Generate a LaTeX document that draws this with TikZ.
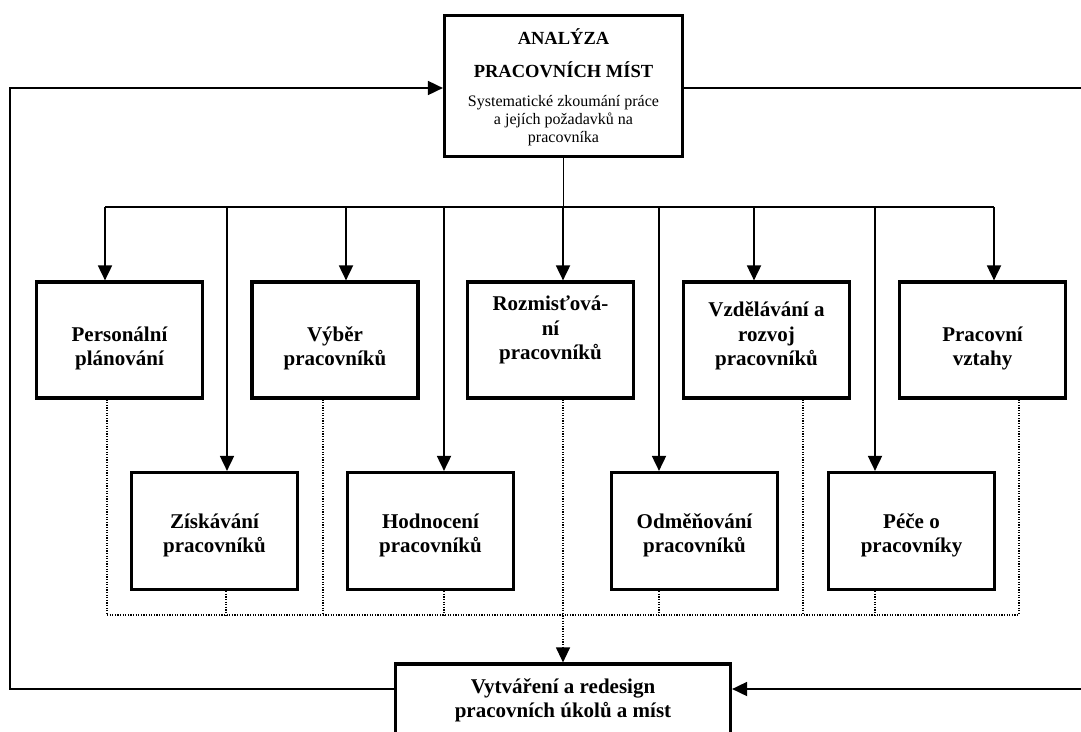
\documentclass[tikz,border=0pt]{standalone}
\usepackage{fontspec}
\setmainfont{Liberation Serif}
\usetikzlibrary{calc, arrows.meta}

\begin{document}
\begin{tikzpicture}[x=1pt,y=-1pt,
  hrbox/.style={draw, line width=3.2pt, minimum width=166pt, minimum height=116pt, inner sep=0pt},
  boxtext/.style={align=center, inner sep=0pt, anchor=south, font=\fontsize{21}{24.5}\selectfont\bfseries},
  toptext/.style={anchor=base, inner sep=0pt, font=\fontsize{18.5}{22}\selectfont\bfseries},
  subtext/.style={anchor=base, inner sep=0pt, font=\fontsize{16}{18}\selectfont},
  wire/.style={line width=1.8pt},
  link/.style={line width=1.8pt, -{Triangle[length=15pt,width=14pt]}},
  dotline/.style={line width=1.2pt, dash pattern=on 1.2pt off 1.4pt}]
\useasboundingbox (0,0) rectangle (1081,731);
%Analysis box at the top
\node[hrbox, minimum width=238pt, minimum height=141pt] (analyza) at (563.5,86) {};
\node[toptext] (analyzaT1) at (563.5,44) {ANALÝZA};
\node[toptext] (analyzaT2) at (563.5,77) {PRACOVNÍCH MÍST};
\node[subtext] (analyzaT3) at (563.5,106) {Systematické zkoumání práce};
\node[subtext] (analyzaT4) at (563.5,124) {a jejích požadavků na};
\node[subtext] (analyzaT5) at (563.5,142) {pracovníka};
%Upper row of activities
\node[hrbox] (personal) at (119.5,340) {};
\node[boxtext] (personalT) at (119.5,370.5) {Personální\\plánování};
\node[hrbox] (vyber) at (335,340) {};
\node[boxtext] (vyberT) at (335,370.5) {Výběr\\pracovníků};
\node[hrbox] (rozmist) at (550.5,340) {};
\node[boxtext] (rozmistT) at (550.5,364.5) {Rozmisťová-\\ní\\pracovníků};
\node[hrbox] (vzdel) at (766.5,340) {};
\node[boxtext] (vzdelT) at (766.5,370.5) {Vzdělávání a\\rozvoj\\pracovníků};
\node[hrbox] (vztahy) at (982.5,340) {};
\node[boxtext] (vztahyT) at (982.5,370.5) {Pracovní\\vztahy};
%Lower row of activities
\node[hrbox, minimum height=117pt] (ziskav) at (214.5,531) {};
\node[boxtext] (ziskavT) at (214.5,557.5) {Získávání\\pracovníků};
\node[hrbox, minimum height=117pt] (hodnoc) at (430.5,531) {};
\node[boxtext] (hodnocT) at (430.5,557.5) {Hodnocení\\pracovníků};
\node[hrbox, minimum height=117pt] (odmen) at (694.5,531) {};
\node[boxtext] (odmenT) at (694.5,557.5) {Odměňování\\pracovníků};
\node[hrbox, minimum height=117pt] (pece) at (911.5,531) {};
\node[boxtext] (peceT) at (911.5,557.5) {Péče o\\pracovníky};
%Redesign box at the bottom
\node[hrbox, minimum width=335pt, minimum height=82pt] (vytvar) at (563,705) {};
\node[boxtext] (vytvarT) at (563,722.6) {Vytváření a redesign\\pracovních úkolů a míst};
%Bus from the analysis
\coordinate (busL) at (105,207);
\coordinate (busR) at (994,207);
\draw[wire] (analyza.south) -- (analyza.south |- busL);
\draw[wire] (busL) -- (busR);
\foreach \x/\n in {105/personal, 346/vyber, 563/rozmist, 754/vzdel, 994/vztahy}
  \draw[link] (\x,207) -- (\x,207 |- \n.north);
\foreach \x/\n in {227/ziskav, 444/hodnoc, 659/odmen, 875/pece}
  \draw[link] (\x,207) -- (\x,207 |- \n.north);
%Dotted collection towards the redesign
\coordinate (dotL) at (107,615);
\coordinate (dotR) at (1019,615);
\foreach \x/\n in {107/personal, 323/vyber, 803/vzdel, 1019/vztahy, 226/ziskav, 444/hodnoc, 659/odmen, 875/pece}
  \draw[dotline] (\x,615 |- \n.south) -- (\x,615);
\draw[dotline] (dotL) -- (dotR);
\draw[dotline, -{Triangle[length=15pt,width=14pt]}] (563,615 |- rozmist.south) -- (vytvar.north);
%Feedback loops
\coordinate (fbTL) at (10,88);
\coordinate (fbBL) at (10,689);
\coordinate (fbTR) at (1084,88);
\coordinate (fbBR) at (1084,689);
\draw[link] (fbBL -| vytvar.west) -- (fbBL) -- (fbTL) -- (fbTL -| analyza.west);
\draw[link] (fbTR -| analyza.east) -- (fbTR) -- (fbBR) -- (fbBR -| vytvar.east);
\end{tikzpicture}
\end{document}
